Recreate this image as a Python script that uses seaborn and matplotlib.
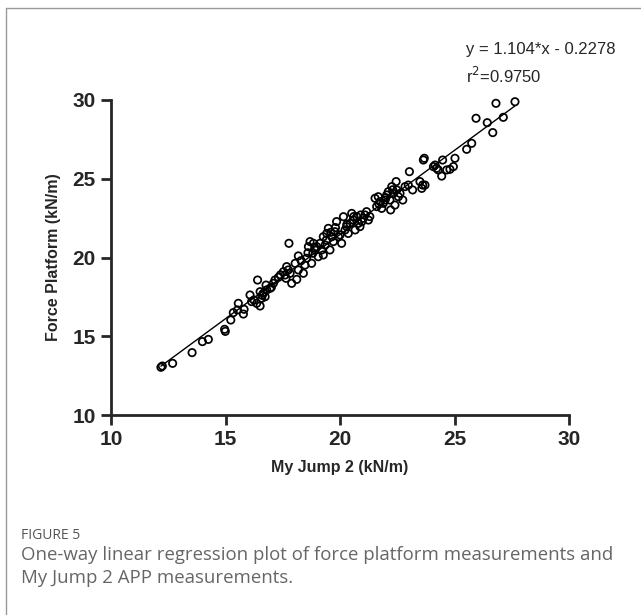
import pandas as pd
import seaborn as sns
import matplotlib.pyplot as plt
from matplotlib.lines import Line2D

# Data
my_jump = [12.18, 12.24, 12.69, 13.54, 13.99, 14.25, 14.96, 14.99, 15.23, 15.34,
           15.52, 15.56, 15.78, 15.81, 16.07, 16.14, 16.36, 16.51, 16.58, 16.65,
           16.73, 16.80, 16.51, 16.24, 16.40, 16.77, 16.94, 17.09, 17.16, 17.31,
           17.53, 17.60, 17.67, 17.74, 17.82, 17.64, 17.77, 17.89, 18.11, 18.04,
           18.18, 18.18, 18.40, 18.47, 18.54, 18.62, 18.69, 18.76, 18.81, 18.84,
           18.91, 18.98, 19.05, 19.13, 19.20, 19.27, 19.35, 19.27, 19.42, 19.49,
           19.56, 19.64, 19.71, 19.78, 19.85, 19.93, 20.00, 20.07, 20.15, 20.22,
           20.29, 20.36, 20.44, 20.51, 20.58, 20.66, 20.73, 20.80, 20.87, 20.95,
           21.02, 21.09, 21.16, 21.24, 21.53, 21.60, 21.67, 21.75, 21.82, 21.89,
           21.97, 22.04, 22.11, 22.18, 22.21, 22.26, 22.33, 22.40, 22.45, 22.48,
           22.55, 22.62, 22.74, 22.84, 22.98, 23.03, 23.17, 23.49, 23.57, 23.61,
           23.71, 23.68, 23.64, 24.08, 24.15, 24.22, 24.29, 24.44, 24.48, 24.66,
           24.80, 24.95, 25.02, 25.53, 25.75, 25.94, 26.43, 26.67, 26.81, 27.13,
           27.64, 17.00, 17.40, 18.30, 18.90, 19.40, 19.80, 20.30, 20.60, 21.30,
           21.70, 22.00, 22.30, 16.60, 18.60, 19.60, 20.90]
force_platform = [13.03, 13.11, 13.28, 13.96, 14.66, 14.80, 15.44, 15.31, 16.03, 16.50,
                  16.67, 17.09, 16.41, 16.71, 17.62, 17.20, 17.09, 16.92, 17.41, 17.73,
                  17.51, 17.94, 17.83, 17.30, 18.57, 18.25, 18.04, 18.36, 18.57, 18.74,
                  19.10, 18.89, 19.42, 19.21, 19.00, 18.68, 20.90, 18.36, 18.61, 19.63,
                  20.10, 19.21, 19.00, 19.52, 19.95, 20.69, 21.01, 19.63, 20.27, 20.90,
                  20.48, 20.69, 20.05, 20.90, 20.48, 20.16, 20.79, 21.32, 21.53, 21.85,
                  20.48, 21.32, 21.01, 21.64, 22.28, 21.32, 21.43, 20.90, 22.59, 21.75,
                  21.96, 21.53, 22.17, 22.80, 22.38, 21.75, 22.59, 22.17, 21.96, 22.28,
                  22.49, 22.70, 22.91, 22.38, 23.76, 23.23, 23.86, 23.55, 23.12, 23.44,
                  23.65, 23.97, 24.18, 23.65, 23.02, 24.50, 24.07, 23.33, 24.82, 24.29,
                  23.86, 24.07, 23.65, 24.50, 24.60, 25.45, 24.29, 24.82, 24.39, 24.60,
                  24.60, 26.30, 26.19, 25.77, 25.87, 25.66, 25.56, 25.17, 26.19, 25.56,
                  25.60, 25.77, 26.30, 26.87, 27.25, 28.84, 28.56, 27.93, 29.79, 28.90,
                  29.89, 18.10, 18.90, 19.80, 20.60, 21.10, 21.90, 22.10, 22.60, 22.60,
                  23.40, 23.80, 24.30, 17.60, 20.30, 21.60, 22.70]

ticks = [10, 15, 20, 25, 30]
equation_text = "y = 1.104*x - 0.2278"
r2_text = "r$^2$=0.9750"

df = pd.DataFrame({"my_jump": my_jump, "force_platform": force_platform})

sns.set_style("ticks")
plt.rcParams['font.family'] = ['Liberation Sans', 'DejaVu Sans']

fig = plt.figure(figsize=(6.41, 6.15), dpi=100)
ax = fig.add_axes([0.1732, 0.3252, 0.7145, 0.5122])

# Scatter of open circles
sns.scatterplot(data=df, x="my_jump", y="force_platform", ax=ax,
                marker="o", s=28, facecolors="none", edgecolor="black",
                linewidth=1.25, zorder=3, clip_on=False)

# Regression line over the data range
sns.regplot(data=df, x="my_jump", y="force_platform", ax=ax, scatter=False,
            ci=None, truncate=True, line_kws={"color": "black", "lw": 1.0, "clip_on": False})

ax.set_xlim(10, 30)
ax.set_ylim(10, 30)
ax.set_xticks(ticks)
ax.set_yticks(ticks)
ax.set_xlabel("My Jump 2 (kN/m)", fontsize=11.5, fontweight="bold", labelpad=8)
ax.set_ylabel("Force Platform (kN/m)", fontsize=11.5, fontweight="bold", labelpad=8)
for lbl in ax.get_xticklabels() + ax.get_yticklabels():
    lbl.set_fontweight("bold")
ax.tick_params(axis="both", labelsize=15, width=2, length=7, direction="out", pad=4)
sns.despine(ax=ax)
for side in ["left", "bottom"]:
    ax.spines[side].set_linewidth(2)

# Equation annotation
fig.text(0.727, 0.919, equation_text, fontsize=12, va="center", ha="left")
fig.text(0.727, 0.877, r2_text, fontsize=12, va="center", ha="left")

# Caption
fig.text(0.033, 0.130, "FIGURE 5", fontsize=10, color="#555555",
         family=["Open Sans", "DejaVu Sans"], va="center")
fig.text(0.033, 0.097, "One-way linear regression plot of force platform measurements and",
         fontsize=13.4, color="#666666", family=["Open Sans", "DejaVu Sans"], va="center")
fig.text(0.033, 0.060, "My Jump 2 APP measurements.",
         fontsize=13.4, color="#666666", family=["Open Sans", "DejaVu Sans"], va="center")

# Panel frame (left and top edges)
fig.add_artist(Line2D([0.0094, 0.0094], [0.0, 0.987], color="#999999", lw=1.0,
                      transform=fig.transFigure))
fig.add_artist(Line2D([0.0094, 1.0], [0.987, 0.987], color="#999999", lw=1.0,
                      transform=fig.transFigure))

fig.savefig("out.png", dpi=100)
